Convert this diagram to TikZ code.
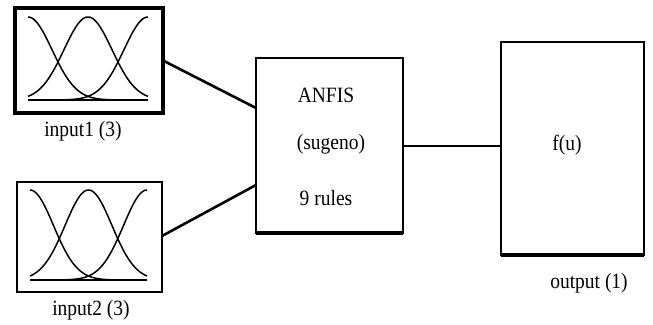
\documentclass[tikz,border=0pt]{standalone}
\usepackage{fontspec}
\setmainfont{Liberation Serif}
\begin{document}
\begin{tikzpicture}[x=1pt,y=-1pt,
  blk/.style={draw=black,rectangle,inner sep=0pt,outer sep=0pt},
  lbl/.style={font=\fontsize{19.5}{21}\selectfont,inner sep=0pt},
  conn/.style={line width=2.6pt},
  mf/.style={line width=1.5pt}]
\useasboundingbox (0,0) rectangle (653,324);
\fill[white] (0,0) rectangle (653,324);
% blocks
\node[blk,line width=3.5pt,minimum width=148pt,minimum height=105pt] (in1) at (89,60.5) {};
\node[blk,line width=2pt,minimum width=145pt,minimum height=110pt] (in2) at (89.5,237) {};
\node[blk,line width=2.6pt,minimum width=147pt,minimum height=175pt] (anfis) at (329.5,145.5) {};
\node[blk,line width=2.6pt,minimum width=143pt,minimum height=213pt] (out) at (572.5,148.5) {};
\draw[line width=4pt] (anfis.south west) -- (anfis.south east);
\draw[line width=4pt] (out.south west) -- (out.south east);
% texts
\node[lbl] (t1) at (83,131) {\scalebox{1}[1.12]{input1 (3)}};
\node[lbl] (t2) at (91,310) {\scalebox{1}[1.12]{input2 (3)}};
\node[lbl] (a1) at (326,95) {\scalebox{1}[1.12]{ANFIS}};
\node[lbl] (a2) at (331,144) {\scalebox{1}[1.12]{(sugeno)}};
\node[lbl] (a3) at (326,198) {\scalebox{1}[1.12]{9 rules}};
\node[lbl] (f) at (567,145) {\scalebox{1}[1.12]{f(u)}};
\node[lbl] (t3) at (589,283) {\scalebox{1}[1.12]{output (1)}};
% connectors
\draw[conn] (in1.east) -- ([yshift=37.5pt]anfis.west);
\draw[conn] ([yshift=1pt]in2.east) -- ([yshift=-39.5pt]anfis.west);
\draw[line width=2pt] (anfis.east) -- (anfis.east -| out.west);
% membership functions input1
\draw[mf] plot[domain=28:148,samples=80,smooth] (\x,{100-83*exp(-((\x-28)^2)/1152)});
\draw[mf] plot[domain=28:148,samples=80,smooth] (\x,{100-83*exp(-((\x-88)^2)/1152)});
\draw[mf] plot[domain=28:148,samples=80,smooth] (\x,{100-83*exp(-((\x-148)^2)/1152)});
\draw[line width=2.2pt] (28,100) -- (148,100);
% membership functions input2
\draw[mf] plot[domain=30:147,samples=80,smooth] (\x,{280-90*exp(-((\x-30)^2)/1100)});
\draw[mf] plot[domain=30:147,samples=80,smooth] (\x,{280-90*exp(-((\x-88.5)^2)/1100)});
\draw[mf] plot[domain=30:147,samples=80,smooth] (\x,{280-90*exp(-((\x-147)^2)/1100)});
\draw[line width=2.2pt] (30,280) -- (147,280);
\end{tikzpicture}
\end{document}
